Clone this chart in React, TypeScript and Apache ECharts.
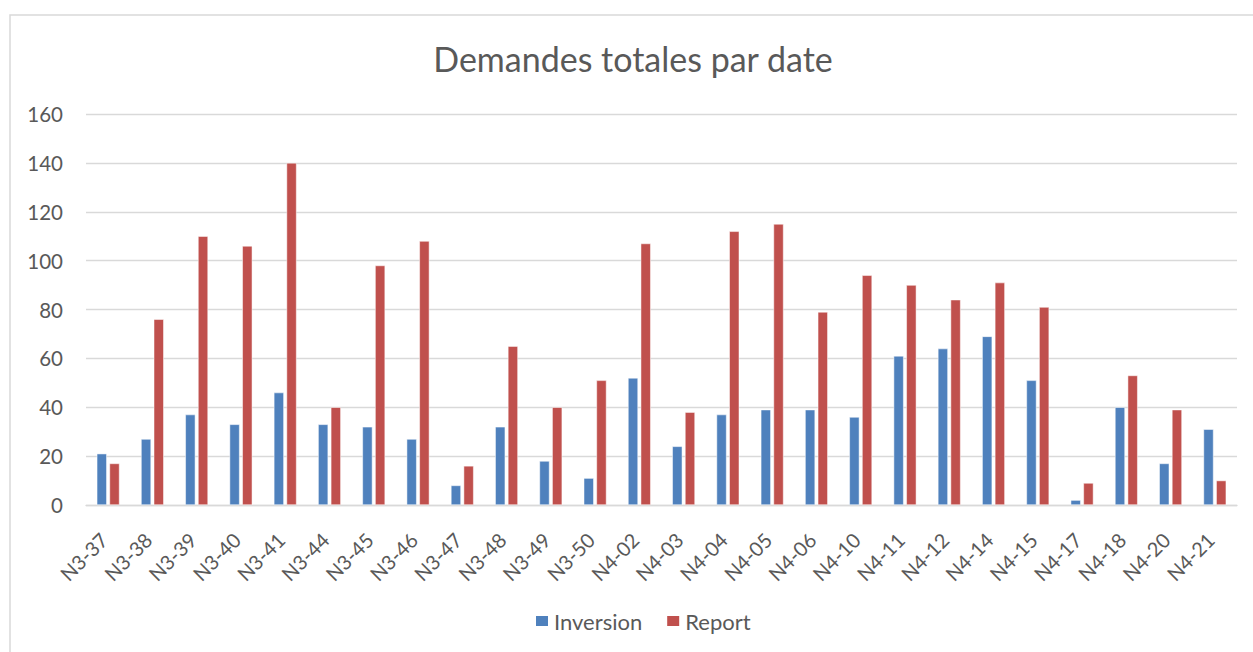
import React, { useEffect, useRef } from "react";
import * as echarts from "echarts";

const categories = [
  "N3-37", "N3-38", "N3-39", "N3-40", "N3-41", "N3-44", "N3-45", "N3-46", "N3-47",
  "N3-48", "N3-49", "N3-50", "N4-02", "N4-03", "N4-04", "N4-05", "N4-06", "N4-10",
  "N4-11", "N4-12", "N4-14", "N4-15", "N4-17", "N4-18", "N4-20", "N4-21",
];
const inversion = [21, 27, 37, 33, 46, 33, 32, 27, 8, 32, 18, 11, 52, 24, 37, 39, 39, 36, 61, 64, 69, 51, 2, 40, 17, 31];
const report = [17, 76, 110, 106, 140, 40, 98, 108, 16, 65, 40, 51, 107, 38, 112, 115, 79, 94, 90, 84, 91, 81, 9, 53, 39, 10];
const titleText = "Demandes totales par date";
const seriesNames = ["Inversion", "Report"];

const FONT = "Lato, 'Open Sans', sans-serif";
const GREY = "#595959";

export default function App() {
  const ref = useRef<HTMLDivElement>(null);
  useEffect(() => {
    if (!ref.current) return;
    const chart = echarts.init(ref.current, undefined, { renderer: "svg" });
    chart.setOption({
      animation: false,
      backgroundColor: "#ffffff",
      textStyle: { fontFamily: FONT },
      graphic: [
        {
          type: "rect",
          shape: { x: 10, y: 15, width: 1260, height: 660 },
          style: { fill: "none", stroke: "#d9d9d9", lineWidth: 1.5 },
          silent: true,
          z: -10,
        },
      ],
      title: {
        text: titleText,
        left: 628,
        textAlign: "center",
        top: 36,
        textStyle: { fontFamily: FONT, fontSize: 34, fontWeight: "normal", color: GREY },
      },
      legend: {
        data: seriesNames,
        left: 529,
        top: 605,
        itemWidth: 14,
        itemHeight: 12,
        itemGap: 23,
        icon: "rect",
        textStyle: { fontFamily: FONT, fontSize: 22, color: GREY },
      },
      grid: { left: 86, right: 16, top: 114, bottom: 147, containLabel: false },
      xAxis: {
        type: "category",
        data: categories,
        axisTick: { show: false },
        axisLine: { lineStyle: { color: "#d9d9d9", width: 1.3 } },
        axisLabel: {
          rotate: 45,
          interval: 0,
          margin: 27,
          padding: [0, 6, 0, 0],
          fontFamily: FONT,
          fontSize: 20,
          color: GREY,
        },
      },
      yAxis: {
        type: "value",
        min: 0,
        max: 160,
        interval: 20,
        axisLine: { show: false },
        axisTick: { show: false },
        splitLine: { lineStyle: { color: "#d9d9d9", width: 1.3 } },
        axisLabel: { margin: 23, fontFamily: FONT, fontSize: 20.5, color: GREY },
      },
      series: [
        {
          name: seriesNames[0],
          type: "bar",
          data: inversion,
          barWidth: 10,
          barGap: "27%",
          itemStyle: { color: "#4F81BD", borderColor: "#ffffff", borderWidth: 0.5 },
        },
        {
          name: seriesNames[1],
          type: "bar",
          data: report,
          barWidth: 10,
          barGap: "27%",
          itemStyle: { color: "#C0504D", borderColor: "#ffffff", borderWidth: 0.5 },
        },
      ],
    });
    return () => chart.dispose();
  }, []);
  return (
    <div
      ref={ref}
      style={{ position: "fixed", left: 0, top: 0, width: 1253, height: 652, background: "#fff" }}
    />
  );
}
